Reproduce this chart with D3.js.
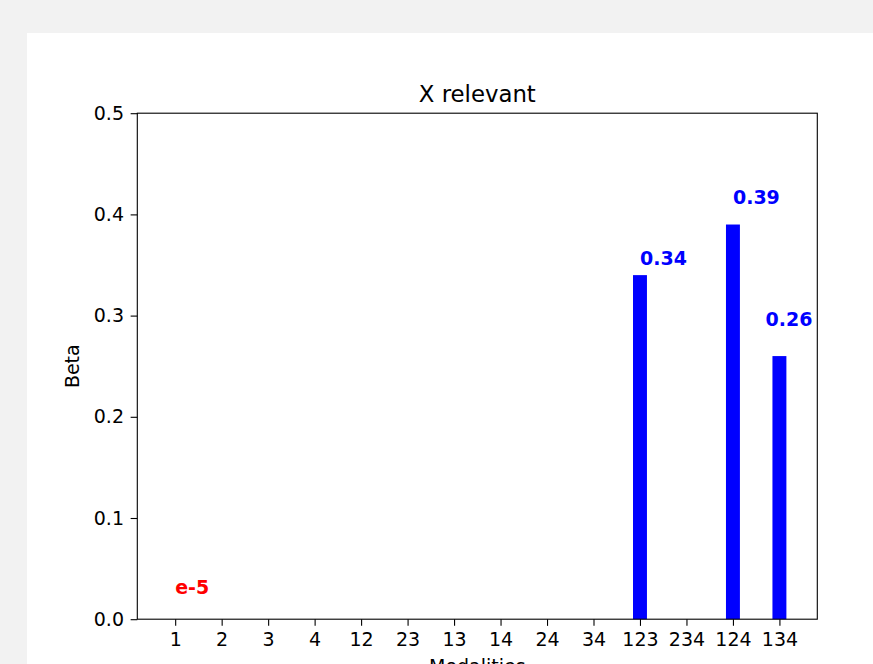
<!DOCTYPE html>
<html>
<head>
<meta charset="utf-8">
<script src="https://cdn.jsdelivr.net/npm/d3@7/dist/d3.min.js"></script>
<style>
  html, body { margin: 0; padding: 0; background: #f2f2f2; width: 873px; height: 664px; overflow: hidden; }
  svg { position: absolute; left: 27px; top: 33px; background: #ffffff; }
  text { font-family: "DejaVu Sans", sans-serif; }
</style>
</head>
<body>
<script>
// ---- data ----
const categories = ["1","2","3","4","12","23","13","14","24","34","123","234","124","134"];
const values = [0.00001,0,0,0,0,0,0,0,0,0,0.34,0,0.39,0.26];
const yTicks = [0.0, 0.1, 0.2, 0.3, 0.4, 0.5];
const labelTexts = ["e-5", "0.34", "0.39", "0.26"];
const labelColors = ["#ff0000", "#0000ff", "#0000ff", "#0000ff"];
const labelX = [0, 10, 12, 12.7];
const labelY = [0.025, 0.35, 0.41, 0.29];
const titleText = "X relevant";
const xLabel = "Modalities";
const yLabel = "Beta";

// ---- layout ----
const W = 877, H = 658;
const mLeft = 110.3, mRight = 790.3, mTop = 80.2, mBottom = 586.2;
const barWidth = 0.3;
const tickLen = 6.66, pad = 6.66, fs = 19;

const svg = d3.select("body").append("svg").attr("width", W).attr("height", H);

const n = categories.length;
const lo = -barWidth / 2, hi = n - 1 + barWidth / 2, mg = (hi - lo) * 0.05;
const x = d3.scaleLinear().domain([lo - mg, hi + mg]).range([mLeft, mRight]);
const y = d3.scaleLinear().domain([0, 0.5]).range([mBottom, mTop]);

// bars
svg.append("g").selectAll("rect").data(values).join("rect")
  .attr("x", (d, i) => x(i - barWidth / 2))
  .attr("width", (d, i) => x(i + barWidth / 2) - x(i - barWidth / 2))
  .attr("y", d => y(d))
  .attr("height", d => y(0) - y(d))
  .attr("fill", "#0000ff");

// value labels
svg.append("g").selectAll("text").data(labelTexts).join("text")
  .attr("x", (d, i) => x(labelX[i]))
  .attr("y", (d, i) => y(labelY[i]))
  .attr("fill", (d, i) => labelColors[i])
  .attr("font-weight", "bold")
  .attr("font-size", fs)
  .text(d => d);

// x axis
const xAxis = d3.axisBottom(x)
  .tickValues(d3.range(n))
  .tickFormat(i => categories[i])
  .tickSize(tickLen).tickPadding(pad);
const gx = svg.append("g").attr("transform", `translate(0,${mBottom})`).call(xAxis);
gx.select(".domain").remove();
gx.selectAll("line").attr("stroke", "#000").attr("stroke-width", 1.1);
gx.selectAll("text").attr("font-size", fs).attr("fill", "#000").attr("font-family", "DejaVu Sans");

// y axis
const yAxis = d3.axisLeft(y).tickValues(yTicks).tickFormat(d3.format(".1f"))
  .tickSize(tickLen).tickPadding(pad);
const gy = svg.append("g").attr("transform", `translate(${mLeft},0)`).call(yAxis);
gy.select(".domain").remove();
gy.selectAll("line").attr("stroke", "#000").attr("stroke-width", 1.1);
gy.selectAll("text").attr("font-size", fs).attr("fill", "#000").attr("font-family", "DejaVu Sans");

// frame
svg.append("rect").attr("x", mLeft).attr("y", mTop)
  .attr("width", mRight - mLeft).attr("height", mBottom - mTop)
  .attr("fill", "none").attr("stroke", "#000").attr("stroke-width", 1.1);

// title
svg.append("text").attr("x", (mLeft + mRight) / 2).attr("y", mTop - 11.3)
  .attr("text-anchor", "middle").attr("font-size", 22.8).text(titleText);

// x label
svg.append("text").attr("x", (mLeft + mRight) / 2).attr("y", 640)
  .attr("text-anchor", "middle").attr("font-size", fs).text(xLabel);

// y label
svg.append("text").attr("transform", `translate(${51.5},${(mTop + mBottom) / 2}) rotate(-90)`)
  .attr("text-anchor", "middle").attr("font-size", fs).text(yLabel);
</script>
</body>
</html>
